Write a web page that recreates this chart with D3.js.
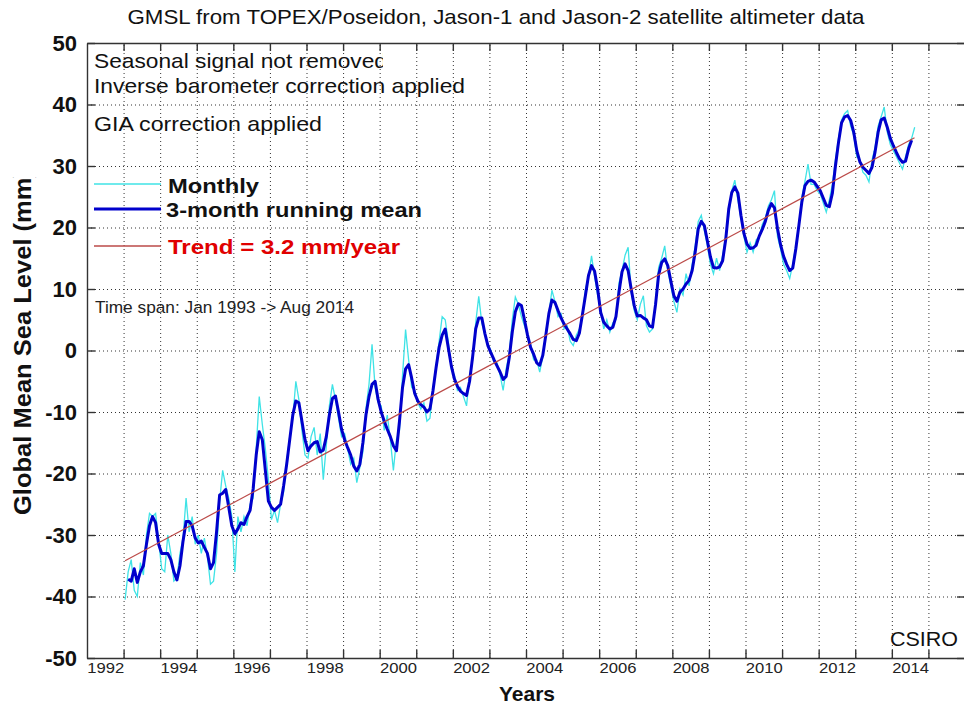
<!DOCTYPE html>
<html lang="en">
<head>
<meta charset="utf-8" />
<style>
  body { margin: 0; background: #fff; }
  text { font-family: "Liberation Sans", Arial, Helvetica, sans-serif; fill: #111; }
  .grid line { stroke: #333; stroke-width: 1; stroke-dasharray: 1 3; }
  .grid text { display: none; }
  .axis path, .axis line { stroke: #333; stroke-width: 1.4; }
  .ylab text { font-size: 22px; font-weight: bold; }
  .xlab text { font-size: 15px; fill: #222; }
</style>
</head>
<body>
<script src="https://d3js.org/d3.v7.min.js"></script>
<script>
// GMSL, monthly values Jan 1993 .. Aug 2014 (mm)
var monthly = [
  -40.5, -36, -34, -39, -40, -34.5, -36.5, -30, -26.5, -27, -26.5, -31,        // 1993
  -35.5, -36, -30, -33, -37.5, -37, -33, -30.5, -24, -29.5, -27, -31.5,        // 1994
  -30, -33, -30.5, -33.5, -38, -37.5, -33, -24.5, -19.5, -22, -24, -27,        // 1995
  -36, -27, -29.5, -27, -28.5, -25, -24, -16, -7.5, -12, -16, -21,             // 1996
  -27.5, -26, -28, -25, -23, -18, -14, -11, -5, -8, -13, -17,                  // 1997
  -17.5, -14, -12.5, -17, -13.5, -21, -15.5, -9, -5.5, -8, -11, -14,           // 1998
  -13.5, -16, -18.5, -17.5, -21.5, -19, -16.5, -9.5, -5.5, 1, -6, -8.5,        // 1999
  -9, -13, -10.5, -14.5, -19.5, -14.5, -13, -4, 3.4, -1.5, -6, -6.5,           // 2000
  -8.5, -9.5, -8.5, -11.5, -11, -6, -2.5, 1.5, 5.5, 5, 1.5, -3,                // 2001
  -4, -6.5, -6, -7.5, -9, -4, -1.5, 4.5, 8.8, 4.5, 2.5, 1,                     // 2002
  0, -2, -2, -4, -6.5, -3, -0.5, 5, 8.7, 7.5, 5.5, 4,                          // 2003
  2.5, 1, -1.5, -1.5, -3.5, -1, 3, 6, 9.8, 8, 5.5, 6,                          // 2004
  3.5, 4, 1.5, 0.8, 2.5, 3.5, 5.5, 10, 12, 15.4, 12, 9,                        // 2005
  6.5, 3.5, 5, 3, 4.5, 5, 11, 13, 15.5, 16.8, 9.5, 6.5,                        // 2006
  5, 7.5, 8.9, 4, 3, 3.5, 8, 13.5, 15, 17, 13, 10.5,                           // 2007
  8, 6.2, 10, 9, 12.5, 10.5, 14, 17, 21, 22, 19.5, 17,                         // 2008
  14, 12.5, 15, 13, 15.5, 18.5, 22, 26, 27.7, 24.5, 21.5, 18.5,                // 2009
  16, 17.5, 16, 18, 18.5, 20.5, 21.5, 23.5, 24.5, 26, 18.5, 16.5,              // 2010
  14, 13, 11.7, 14, 17, 20.5, 25, 27.5, 30.3, 27, 27, 26,                      // 2011
  25.5, 24, 22.5, 24.5, 27, 31, 34.5, 37.5, 38.5, 39, 36.5, 35,                // 2012
  31.5, 31, 29, 28.5, 27.4, 31, 33, 36.5, 38, 39.6, 35.5, 33.5,                // 2013
  32.5, 31.5, 30.5, 29.5, 31.5, 33.5, 34.5, 36.3                               // 2014
];

// 3-month running mean (no value at the first and last month)
var runningMean = [
  null, -37.2, -37.5, -35.5, -37.7, -36, -35, -31.5, -28.5, -27, -28, -31.5,
  -33, -33, -33, -34, -36, -37.3, -35, -31, -27.8, -27.8, -28.5, -30.5,
  -31.3, -31, -32, -33, -35.5, -34.5, -29.5, -23.5, -23.2, -22.6, -25.5, -28.5,
  -29.8, -29, -28, -28.3, -27, -26, -22.5, -17, -13.2, -14.5, -19.5, -24.5,
  -25.5, -26, -25.5, -25, -22, -18.5, -14.5, -10.5, -8.2, -8.5, -11.5, -14.5,
  -16.3, -15.5, -15, -14.8, -16.5, -16.2, -14, -10.5, -7.8, -7.4, -10, -12.8,
  -14.5, -15.8, -17, -18.8, -19.6, -18.5, -15, -10.5, -7.5, -5.5, -5, -8,
  -10, -11.5, -12.8, -14, -15.5, -16.3, -11.5, -6, -3, -2.3, -4.5, -7,
  -8.2, -8.8, -9.2, -10, -9.5, -6.5, -2.8, 0.5, 2.5, 3.5, 0.5, -2.5,
  -4.6, -5.8, -6.6, -7, -7.3, -5, -1, 3.5, 5.3, 5.3, 2.8, 0.8,
  -0.4, -1.5, -2.5, -3.5, -4.7, -4.2, -1.2, 3, 6.3, 7.6, 7.3, 5,
  2.5, 0.5, -0.6, -2, -2.4, -0.8, 2.5, 6, 8.2, 7.8, 6.5, 5.3,
  4.3, 3.5, 2.7, 1.8, 1.6, 2.8, 5.8, 9, 12.2, 13.8, 12.9, 10,
  6.2, 4.6, 4, 3.5, 3.8, 5.5, 9.5, 12.8, 14.1, 13, 10, 7.3,
  5.6, 5.7, 5.3, 5, 4, 3.8, 7.5, 12.3, 14.3, 14.9, 13.8, 11.3,
  8.9, 8, 9.5, 10, 10.8, 11.4, 13, 16, 19.8, 21, 20.3, 17.8,
  15.2, 13.5, 13.4, 13.6, 14.6, 18, 23, 25.7, 26.6, 25.6, 22, 19,
  17.3, 16.6, 16.7, 17.1, 18.6, 19.7, 21, 22.8, 23.9, 23.2, 19.8, 17.2,
  15.3, 14, 13, 13.4, 16.5, 20.3, 24.2, 26.8, 27.5, 27.7, 27.4, 26.7,
  26, 24.8, 23.6, 23.4, 25.6, 30, 33.8, 37, 38, 38.2, 37.4, 35.5,
  32.5, 30.7, 29.8, 29.3, 28.8, 29.8, 32.3, 35.5, 37.5, 37.8, 36.3, 34.5,
  33.3, 32.2, 31.2, 30.6, 30.8, 32.8, 34.2, null
];

var trendYears = [1993.04, 2014.62];
var trendValues = [-34.2, 34.6];

var yTickValues = [-50, -40, -30, -20, -10, 0, 10, 20, 30, 40, 50];
var tickYears = [1993, 1994, 1995, 1996, 1997, 1998, 1999, 2000, 2001, 2002, 2003, 2004,
                 2005, 2006, 2007, 2008, 2009, 2010, 2011, 2012, 2013, 2014, 2015];
var yearLabels = [1992, 1994, 1996, 1998, 2000, 2002, 2004, 2006, 2008, 2010, 2012, 2014];

var titleText = "GMSL from TOPEX/Poseidon, Jason-1 and Jason-2 satellite altimeter data";
var notes = ["Seasonal signal not removed", "Inverse barometer correction applied", "GIA correction applied"];
var legendLabels = ["Monthly", "3-month running mean", "Trend = 3.2 mm/year"];
var spanText = "Time span: Jan 1993 -> Aug 2014";

var svg = d3.select("body").append("svg")
  .attr("width", 964)
  .attr("height", 706);

svg.append("rect").attr("width", 964).attr("height", 706).attr("fill", "#fff");

var x = d3.scaleLinear().domain([1992, 2016]).range([87, 965]);
var y = d3.scaleLinear().domain([-50, 50]).range([658, 43]);

// dotted grid
svg.append("g").attr("class", "grid")
  .attr("transform", "translate(0,658)")
  .call(d3.axisBottom(x).tickValues(tickYears).tickSize(-615).tickFormat(""))
  .call(function(g){ g.select(".domain").remove(); });

svg.append("g").attr("class", "grid")
  .attr("transform", "translate(87,0)")
  .call(d3.axisLeft(y).tickValues(yTickValues.filter(function(v){ return Math.abs(v) < 50; }))
    .tickSize(-878).tickFormat(""))
  .call(function(g){ g.select(".domain").remove(); });

// series
var monthTime = function(i){ return 1993 + (i + 0.5) / 12; };
var line = d3.line()
  .defined(function(d){ return d != null; })
  .x(function(d, i){ return x(monthTime(i)); })
  .y(function(d){ return y(d); });

svg.append("path").datum(monthly)
  .attr("d", line)
  .attr("fill", "none")
  .attr("stroke", "#3fe3e6")
  .attr("stroke-width", 1.3);

svg.append("path").datum(runningMean)
  .attr("d", line)
  .attr("fill", "none")
  .attr("stroke", "#0000cc")
  .attr("stroke-width", 3)
  .attr("stroke-linejoin", "round");

svg.append("path").datum(d3.zip(trendYears, trendValues))
  .attr("d", d3.line().x(function(d){ return x(d[0]); }).y(function(d){ return y(d[1]); }))
  .attr("fill", "none")
  .attr("stroke", "#bb4a48")
  .attr("stroke-width", 1.2);

// frame with inward ticks
svg.append("g").attr("class", "axis")
  .attr("transform", "translate(0,658)")
  .call(d3.axisBottom(x).tickValues(tickYears).tickSize(-8).tickSizeOuter(0).tickFormat(""));
svg.append("g").attr("class", "axis")
  .attr("transform", "translate(0,43)")
  .call(d3.axisTop(x).tickValues(tickYears).tickSize(-8).tickSizeOuter(0).tickFormat(""));
svg.append("g").attr("class", "axis ylab")
  .attr("transform", "translate(87,0)")
  .call(d3.axisLeft(y).tickValues(yTickValues).tickSize(-8).tickSizeOuter(0).tickPadding(10)
    .tickFormat(function(d){ return String(d); }));
svg.append("g").attr("class", "axis")
  .attr("transform", "translate(965,0)")
  .call(d3.axisRight(y).tickValues(yTickValues).tickSize(-8).tickSizeOuter(0).tickFormat(""));

// year labels sit in the middle of the year
svg.append("g").attr("class", "xlab")
  .attr("transform", "translate(0,658)")
  .call(d3.axisBottom(x).tickValues(yearLabels.map(function(d){ return d + 0.5; }))
    .tickSize(0).tickPadding(4).tickFormat(function(d){ return String(Math.floor(d)); }))
  .call(function(g){ g.select(".domain").remove(); })
  .selectAll("text")
    .attr("textLength", 37)
    .attr("lengthAdjust", "spacingAndGlyphs");

// title and axis titles
svg.append("text")
  .attr("x", 496).attr("y", 24)
  .attr("text-anchor", "middle")
  .attr("textLength", 737).attr("lengthAdjust", "spacingAndGlyphs")
  .style("font-size", "21px")
  .text(titleText);

svg.append("text")
  .attr("x", 527).attr("y", 701)
  .attr("text-anchor", "middle")
  .style("font-size", "21px").style("font-weight", "bold")
  .text("Years");

var defs = svg.append("defs");
defs.append("clipPath").attr("id", "ylabClip")
  .append("rect").attr("x", 0).attr("y", 177).attr("width", 60).attr("height", 400);
defs.append("clipPath").attr("id", "noteClip")
  .append("rect").attr("x", 88).attr("y", 40).attr("width", 295).attr("height", 40);

svg.append("g").attr("clip-path", "url(#ylabClip)")
  .append("text")
  .attr("transform", "translate(31,342) rotate(-90)")
  .attr("text-anchor", "middle")
  .attr("textLength", 346).attr("lengthAdjust", "spacingAndGlyphs")
  .style("font-size", "24px").style("font-weight", "bold")
  .text("Global Mean Sea Level (mm)");

// notes in the upper left
var noteY = [68, 93, 131];
var noteW = [293, 371, 228];
svg.selectAll(".note")
  .data(notes)
  .enter()
  .append("text")
    .attr("class", "note")
    .attr("clip-path", function(d, i){ return i === 0 ? "url(#noteClip)" : null; })
    .attr("x", 94)
    .attr("y", function(d, i){ return noteY[i]; })
    .attr("textLength", function(d, i){ return noteW[i]; })
    .attr("lengthAdjust", "spacingAndGlyphs")
    .style("font-size", "21px")
    .text(function(d){ return d; });

// legend
var legColor = ["#3fe3e6", "#0000cc", "#bb4a48"];
var legWidth = [1.5, 3, 1.3];
var legLineY = [184, 209, 246];
var legTextX = [168, 166, 168];
var legTextY = [193, 217, 254];
var legTextW = [91, 256, 232];
var legTextFill = ["#111", "#111", "#e00000"];

var leg = svg.selectAll(".leg")
  .data(legendLabels)
  .enter()
  .append("g")
    .attr("class", "leg");

leg.append("line")
  .attr("x1", 94).attr("x2", 161)
  .attr("y1", function(d, i){ return legLineY[i]; })
  .attr("y2", function(d, i){ return legLineY[i]; })
  .attr("stroke", function(d, i){ return legColor[i]; })
  .attr("stroke-width", function(d, i){ return legWidth[i]; });

leg.append("text")
  .attr("x", function(d, i){ return legTextX[i]; })
  .attr("y", function(d, i){ return legTextY[i]; })
  .attr("textLength", function(d, i){ return legTextW[i]; })
  .attr("lengthAdjust", "spacingAndGlyphs")
  .style("font-size", "21px").style("font-weight", "bold")
  .style("fill", function(d, i){ return legTextFill[i]; })
  .text(function(d){ return d; });

svg.append("text")
  .attr("x", 95).attr("y", 313)
  .attr("textLength", 259).attr("lengthAdjust", "spacingAndGlyphs")
  .style("font-size", "17px").style("fill", "#222")
  .text(spanText);

svg.append("text")
  .attr("x", 890).attr("y", 646)
  .attr("textLength", 68).attr("lengthAdjust", "spacingAndGlyphs")
  .style("font-size", "20px")
  .text("CSIRO");
</script>
</body>
</html>
